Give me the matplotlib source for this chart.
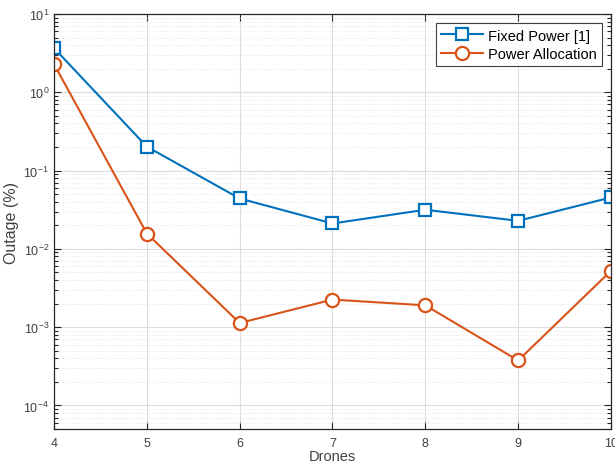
import numpy as np
import matplotlib.pyplot as plt
from matplotlib.ticker import LogLocator, NullFormatter

plt.rcParams['font.family'] = ['Liberation Sans', 'DejaVu Sans']

drones = [4, 5, 6, 7, 8, 9, 10]
fixed_power = [3.67, 0.202, 0.044, 0.0211, 0.0316, 0.0228, 0.0454]
power_alloc = [2.29, 0.0157, 0.00113, 0.00225, 0.0019, 0.000375, 0.00525]

fig = plt.figure(figsize=(6.15, 4.64), dpi=100)
ax = fig.add_axes([54/615, 34/464, (611-54)/615, (430-15)/464])

ax.semilogy(drones, fixed_power, '-s', color='#0072BD', lw=1.5, ms=8,
            mfc='white', mew=1.6, label='Fixed Power [1]')
ax.semilogy(drones, power_alloc, '-o', color='#D95319', lw=1.5, ms=9.5,
            mfc='white', mew=1.6, label='Power Allocation')

ax.set_xlim(4, 10)
ax.set_ylim(5e-5, 10)
ax.set_xticks(drones)
ax.yaxis.set_major_locator(LogLocator(base=10, numticks=10))
ax.yaxis.set_minor_locator(LogLocator(base=10, subs=np.arange(2, 10), numticks=10))
ax.yaxis.set_minor_formatter(NullFormatter())

ax.grid(True, which='major', color='#dcdcdc', lw=0.8)
ax.grid(True, which='minor', axis='y', color='#e0e0e0', lw=0.6, ls=':')
ax.set_axisbelow(True)

ax.tick_params(which='both', direction='in', top=True, right=True,
               labelsize=9, labelcolor='#404040', color='#262626', width=0.8)
ax.tick_params(which='major', length=5)
ax.tick_params(which='minor', length=3)
ax.tick_params(axis='x', pad=6)
for s in ax.spines.values():
    s.set_color('#262626')
    s.set_linewidth(0.9)

ax.set_ylabel('Outage (%)', fontsize=11.5, color='#404040', labelpad=3)
ax.set_xlabel('Drones', fontsize=10.5, color='#404040', labelpad=0)

leg = ax.legend(loc='upper right', fontsize=10.5, frameon=True, fancybox=False,
                edgecolor='#404040', framealpha=1, borderaxespad=0.65,
                handlelength=2.9, borderpad=0.35, labelspacing=0.3,
                handletextpad=0.3)
leg.get_frame().set_linewidth(0.8)

fig.savefig('out.png', dpi=100)
